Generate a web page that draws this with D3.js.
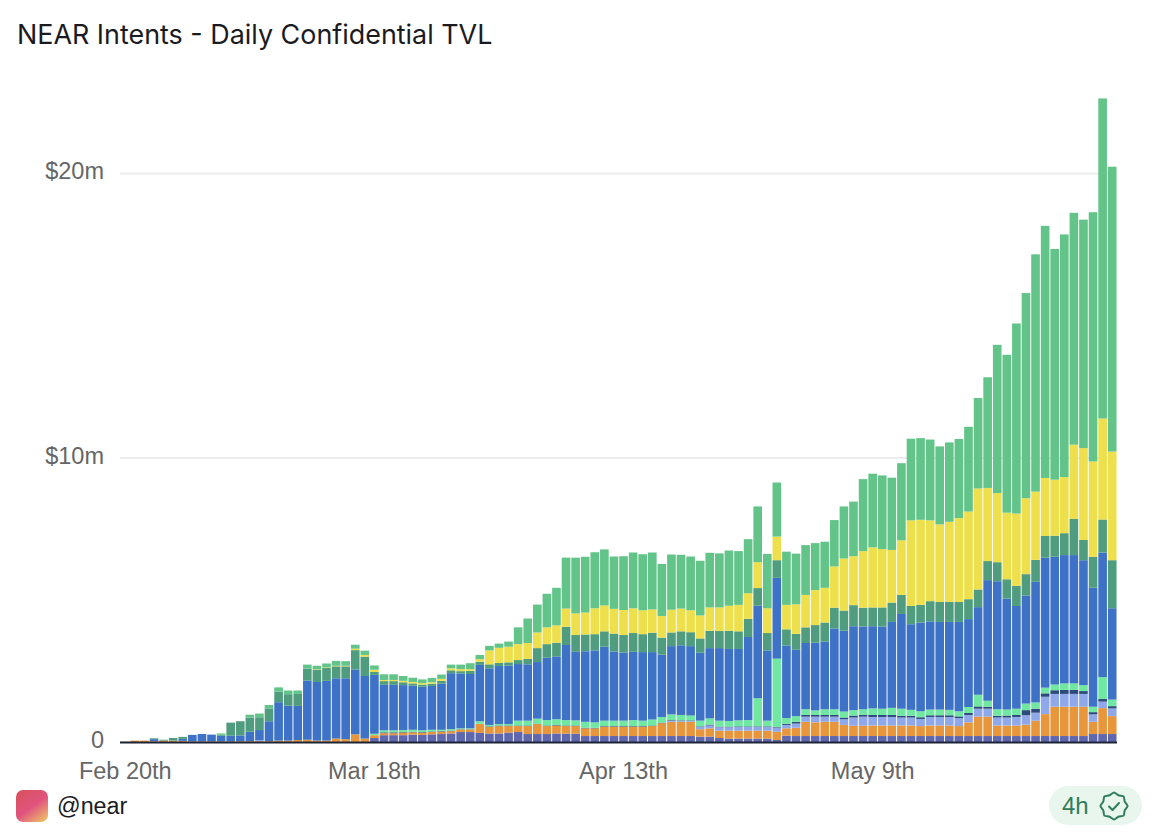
<!DOCTYPE html>
<html>
<head>
<meta charset="utf-8">
<script src="https://cdn.jsdelivr.net/npm/d3@7"></script>
<style>
  html, body { margin: 0; padding: 0; background: #fff; }
  svg { display: block; }
  text { font-family: "Liberation Sans", sans-serif; }
  .title { font-family: Inter, sans-serif; font-weight: 400; font-size: 26.9px; fill: #1b1b1f; }
  .axis text { font-size: 23.5px; fill: #666; }
  .axis path, .axis line { stroke: none; }
  .grid line { stroke: #ececec; stroke-width: 2; }
  .grid path { stroke: none; }
</style>
</head>
<body>
<svg id="chart" width="1158" height="838"></svg>
<script>
// all values in $m, one entry per day starting Feb 20th
const indigo = [
  0,0,0,0,0,0,0,0,0,0,
  0,0,0,0,0,0,0,0,0,0,
  0,0,0,0,0,0,.14,.24,.24,.24,
  .26,.25,.27,.28,.3,.35,.35,.32,.3,.3,
  .33,.35,.28,.28,.28,.3,.29,.29,.21,.21,
  .21,.21,.21,.21,.21,.21,.21,.21,.21,.21,
  .19,.19,.14,.12,.12,.12,.12,.12,.07,.22,
  .21,.21,.21,.21,.21,.21,.21,.21,.21,.21,
  .21,.21,.21,.21,.21,.21,.21,.21,.21,.21,
  .21,.21,.21,.21,.21,.21,.21,.21,.21,.21,
  .21,.28,.28,.28];
const orange = [
  .01,.05,.05,.03,.05,.05,.04,.02,.02,.02,
  .02,.02,.03,.03,.03,.03,.05,.05,.07,.08,
  .05,.05,.12,.1,.27,.12,.1,.07,.07,.09,
  .08,.08,.08,.08,.08,.09,.09,.32,.23,.26,
  .23,.21,.28,.35,.28,.28,.27,.27,.27,.27,
  .33,.33,.33,.33,.33,.35,.45,.5,.5,.5,
  .26,.29,.26,.28,.28,.28,.28,.28,.29,.26,
  .29,.5,.48,.5,.5,.39,.36,.36,.37,.37,
  .37,.37,.37,.35,.37,.37,.37,.35,.48,.68,
  .68,.37,.37,.37,.4,.54,.77,1.03,1.03,1.03,
  1.03,.43,.91,.63];
const periwinkle = [
  0,0,0,0,0,0,0,0,0,0,
  0,0,0,0,.03,0,0,0,0,0,
  0,0,0,0,0,0,0,0,0,0,
  0,0,0,0,0,0,0,0,0,0,
  0,0,0,0,0,0,0,0,0,0,
  0,0,0,0,0,0,0,.04,.03,.03,
  .08,.1,.12,.12,.13,.13,.13,.13,.15,.12,
  .15,.18,.2,.18,.18,.2,.29,.32,.3,.3,
  .3,.28,.28,.25,.3,.3,.3,.28,.26,.28,
  .28,.28,.28,.3,.33,.28,.61,.45,.45,.45,
  .45,.26,.23,.27];
const navy = [
  0,0,0,0,0,0,0,0,0,0,
  0,0,0,0,0,0,0,0,0,0,
  0,0,0,0,0,0,0,.03,.03,.02,
  .02,.02,.02,.02,.02,.01,.01,0,.02,.02,
  .02,.02,.02,.01,.02,.02,.02,.02,.02,.02,
  .02,.02,.02,.02,.02,.02,.02,.02,.02,.02,
  .02,.03,.02,.02,.02,.02,.02,.02,.02,.04,
  .06,.06,.06,.06,.06,.06,.07,.07,.07,.07,
  .07,.06,.06,.06,.06,.06,.06,.06,.07,.08,
  .07,.06,.07,.07,.18,.14,.12,.13,.14,.14,
  .1,.08,.09,.08];
const mint = [
  0,0,0,0,0,0,0,0,0,0,
  0,0,0,0,0,0,0,0,0,0,
  0,0,0,0,0,0,.05,.07,.07,.07,
  .07,.06,.06,.05,.05,.03,.03,.09,.05,.05,
  .05,.17,.17,.18,.19,.2,.19,.18,.21,.19,
  .19,.19,.19,.21,.19,.21,.2,.2,.19,.17,
  .2,.22,.21,.2,.21,.22,.99,.2,2.4,.2,
  .2,.2,.16,.2,.2,.21,.19,.19,.23,.22,
  .25,.25,.21,.21,.2,.2,.19,.18,.21,.41,
  .21,.23,.21,.22,.23,.22,.2,.2,.23,.23,
  .21,.19,.77,.23];
const blue = [
  0,0,0,.07,0,0,.07,.23,.26,.24,
  .2,.2,.2,.33,.36,.7,1.35,1.23,1.2,2.08,
  2.06,2.1,2.12,2.14,2.28,2.2,2.07,1.6,1.6,1.58,
  1.55,1.53,1.54,1.62,1.97,1.93,1.91,1.98,1.99,2.04,
  2.06,1.99,1.98,1.99,2.19,2.21,2.64,2.41,2.48,2.53,
  2.6,2.43,2.39,2.4,2.41,2.37,2.19,2.4,2.45,2.44,
  2.39,2.47,2.55,2.53,2.51,2.92,3.25,2.47,2.84,2.55,
  2.33,2.33,2.38,2.38,2.84,2.84,2.95,2.91,2.89,2.89,
  3.02,3.33,3.01,3.12,3.1,3.08,3.09,3.14,3.09,3.08,
  4.24,4.5,3.9,3.61,3.8,4.24,4.57,4.49,4.51,4.51,
  4.39,4.18,4.38,3.21];
const darkGreen = [
  0,0,0,.03,.03,.09,.07,0,0,0,
  .03,.46,.5,.5,.45,.45,.37,.4,.42,.42,
  .42,.45,.42,.42,.68,.68,.1,.13,.13,.1,
  .08,.08,.08,.1,.1,.08,.11,.11,.14,.11,
  .11,.14,.19,.49,.48,.48,.64,.59,.59,.57,
  .54,.63,.62,.66,.63,.68,.6,.48,.49,.49,
  .5,.61,.6,.64,.62,.64,.62,.61,.62,.57,
  .56,.55,.62,.67,.73,.71,.74,.66,.66,.67,
  .68,.67,.64,.62,.71,.7,.71,.7,.7,.62,
  .67,.67,.68,.71,.75,.77,.76,.74,.77,1.27,
  .71,1.09,1.16,1.69];
const yellow = [
  0,0,0,0,0,0,0,0,0,0,
  0,0,0,0,0,0,0,0,0,0,
  .02,.02,.02,.02,.05,.06,.08,.04,.04,.05,
  .05,.05,.05,.07,.07,.07,.06,.09,.49,.53,
  .55,.56,.56,.55,.59,.61,.64,.76,.77,.91,
  .91,.87,.88,.87,.84,.82,.76,.8,.8,.77,
  .81,.82,.83,.88,.93,.9,.91,.87,.83,.86,
  1.04,1.14,1.23,1.22,1.45,1.83,1.72,1.99,2.11,2.05,
  1.85,1.92,3.01,2.99,2.84,2.73,2.81,2.95,3.08,3.55,
  2.57,2.43,2.34,2.54,2.67,2.4,2.04,1.97,1.97,2.61,
  3.23,3.35,3.55,3.82];
const green = [
  0,0,0,0,0,0,0,0,0,0,
  .05,0,0,.1,.13,.12,.15,.13,.12,.14,
  .13,.14,.17,.16,.14,.15,.15,.2,.2,.17,
  .15,.13,.15,.15,.13,.16,.21,.15,.16,.15,
  .18,.59,.86,.98,1.18,1.32,1.79,1.96,1.96,1.97,
  1.97,1.84,1.89,1.96,1.97,2,1.83,1.94,1.89,1.89,
  1.92,1.92,1.9,1.94,1.89,1.9,1.96,1.91,1.9,1.87,
  1.78,1.75,1.65,1.62,1.63,1.83,1.92,2.53,2.59,2.59,
  2.54,2.71,2.87,2.87,2.84,2.74,2.79,2.78,2.98,3.18,
  3.89,5.21,5.55,6.68,7.21,8.34,8.86,8.11,8.53,8.15,
  8.03,8.76,11.25,10.01];

const seriesNames = ["indigo", "orange", "periwinkle", "navy", "mint", "blue", "darkGreen", "yellow", "green"];
const seriesValues = [indigo, orange, periwinkle, navy, mint, blue, darkGreen, yellow, green];
const seriesColors = ["#5f68ae", "#e8963c", "#8fa8ea", "#2c4a7c", "#70e8a2", "#3e72c6", "#4f9c7e", "#eee04c", "#62c488"];

const yTicks = [0, 10, 20];
const xTickDays = ["Feb 20th", "Mar 18th", "Apr 13th", "May 9th"];

const days = d3.timeDay.range(new Date(2025, 1, 20), new Date(2025, 5, 4));
const dayLabel = d3.timeFormat("%b %-d");
const ordinal = d => `${dayLabel(d)}th`;

const table = days.map((d, i) => {
  const row = { day: ordinal(d) };
  seriesNames.forEach((name, s) => { row[name] = seriesValues[s][i]; });
  return row;
});

const svg = d3.select("#chart");

const x = d3.scaleBand()
  .domain(table.map(d => d.day))
  .range([120.5, 1117])
  .paddingInner(0.1)
  .paddingOuter(0.05);

const y = d3.scaleLinear()
  .domain([0, 22.6])
  .range([742, 99]);

const color = d3.scaleOrdinal().domain(seriesNames).range(seriesColors);

// title
svg.append("text")
  .attr("class", "title")
  .attr("x", 17)
  .attr("y", 44)
  .text("NEAR Intents - Daily Confidential TVL");

// gridlines
svg.append("g")
  .attr("class", "grid")
  .attr("transform", "translate(120,0)")
  .call(d3.axisLeft(y).tickValues(yTicks.slice(1)).tickSize(-997).tickFormat(""));

// bars
const stacked = d3.stack().keys(seriesNames)(table);

svg.append("g")
  .selectAll("g")
  .data(stacked)
  .enter()
  .append("g")
  .attr("fill", d => color(d.key))
  .selectAll("rect")
  .data(d => d)
  .enter()
  .append("rect")
  .attr("x", d => x(d.data.day))
  .attr("width", x.bandwidth())
  .attr("y", d => y(d[1]))
  .attr("height", d => y(d[0]) - y(d[1]));

// y axis
svg.append("g")
  .attr("class", "axis")
  .attr("transform", "translate(104,-2)")
  .call(d3.axisLeft(y).tickValues(yTicks).tickSize(0).tickPadding(0)
    .tickFormat(d => d === 0 ? "0" : `$${d}m`));

// x axis
svg.append("g")
  .attr("class", "axis")
  .attr("transform", "translate(0,742)")
  .call(d3.axisBottom(x).tickValues(xTickDays).tickSize(0).tickPadding(20));

// baseline
svg.append("line")
  .attr("x1", 120)
  .attr("x2", 1117)
  .attr("y1", y(0) + 0.5)
  .attr("y2", y(0) + 0.5)
  .attr("stroke", "#1c2436")
  .attr("stroke-width", 2);

// footer: avatar
const defs = svg.append("defs");
const grad = defs.append("linearGradient")
  .attr("id", "avatar")
  .attr("x1", "15%").attr("y1", "5%")
  .attr("x2", "85%").attr("y2", "100%");
grad.append("stop").attr("offset", "0%").attr("stop-color", "#d9525f");
grad.append("stop").attr("offset", "50%").attr("stop-color", "#e0537f");
grad.append("stop").attr("offset", "100%").attr("stop-color", "#ecbe68");

svg.append("rect")
  .attr("x", 16).attr("y", 790)
  .attr("width", 32).attr("height", 32)
  .attr("rx", 7)
  .attr("fill", "url(#avatar)");

svg.append("text")
  .attr("x", 57)
  .attr("y", 814)
  .attr("font-size", 23.3)
  .attr("fill", "#1b1b1f")
  .text("@near");

// footer: freshness badge
svg.append("rect")
  .attr("x", 1049).attr("y", 786)
  .attr("width", 93).attr("height", 39)
  .attr("rx", 19.5)
  .attr("fill", "#e9f6ee");

svg.append("text")
  .attr("x", 1062)
  .attr("y", 814)
  .attr("font-size", 24)
  .attr("fill", "#2f7d5a")
  .text("4h");

const wavy = d3.lineRadial()
  .curve(d3.curveCardinalClosed.tension(0.3))
  .angle(d => d[0])
  .radius(d => d[1]);
const badgePoints = d3.range(16).map(k => [k * Math.PI / 8, k % 2 ? 11.6 : 13.6]);

const badge = svg.append("g")
  .attr("transform", "translate(1114,806)")
  .attr("fill", "none")
  .attr("stroke", "#2f7d5a")
  .attr("stroke-width", 2)
  .attr("stroke-linejoin", "round")
  .attr("stroke-linecap", "round");
badge.append("path").attr("d", wavy(badgePoints));
badge.append("path").attr("d", "M-5,0.5L-1.5,4L5,-3");
</script>
</body>
</html>
